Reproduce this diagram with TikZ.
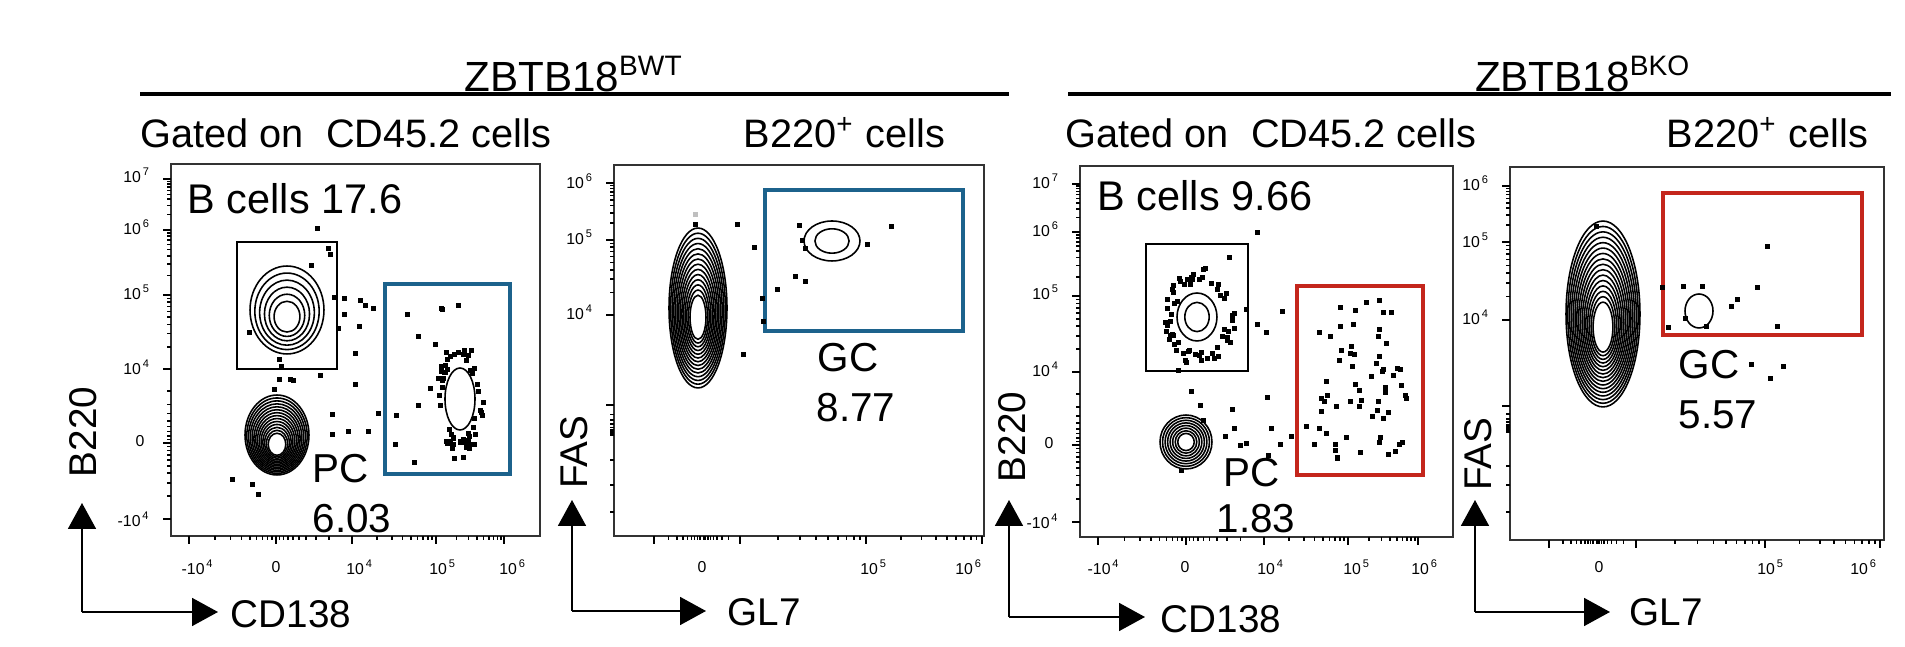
\documentclass[tikz,border=0pt]{standalone}
\usepackage{fontspec}
\setmainfont{Liberation Sans}
\usetikzlibrary{arrows.meta}

\definecolor{gateblue}{RGB}{28,98,140}
\definecolor{gatered}{RGB}{196,38,28}

\tikzset{
  frame/.style={draw=black!80,line width=0.5pt},
  gatebox/.style={line width=1pt},
  ring/.style={line width=0.45pt},
  axarrow/.style={line width=0.5pt,-{Triangle[length=2.6mm,width=2.8mm]}},
  ticklab/.style={font=\fontsize{4.5}{5}\selectfont,inner sep=0pt},
  header/.style={font=\fontsize{11.3}{13}\selectfont,inner sep=0pt},
  poplab/.style={font=\fontsize{11.5}{13}\selectfont,inner sep=0pt},
  axlab/.style={font=\fontsize{11}{13}\selectfont,inner sep=0pt},
}

% one event of the plot
\newcommand\dotat[2]{\fill ({#1-2.5},{#2-2.5}) rectangle ++(5,5);}
% nested contour rings: cx, cy, rx, ry, count, drift of outer rings
\newcommand\rings[6]{%
  \foreach \i in {1,...,#5}
    \draw[ring] (#1,{#2-#6*\i/#5}) ellipse [x radius={#3*(0.22+0.78*\i/#5)*0.01cm}, y radius={#4*(0.22+0.78*\i/#5)*0.01cm}];}
% minor log ticks of one decade
\newcommand\ydec[3]{\foreach \k in {2,...,9} \draw[ring] (#1,{#2+(#3-#2)*ln(\k)/ln(10)}) -- ++(-4,0);}
\newcommand\xdec[3]{\foreach \k in {2,...,9} \draw[ring] ({#2+(#3-#2)*ln(\k)/ln(10)},#1) -- ++(0,4);}
\newcommand\ymaj[2]{\draw[ring] (#1,#2) -- ++(-8,0);}
\newcommand\xmaj[2]{\draw[ring] (#2,#1) -- ++(0,8);}

\begin{document}
\begin{tikzpicture}[x=0.1mm,y=-0.1mm]
\useasboundingbox (0,0) rectangle (1905,647);

% headers
\node[header,font=\fontsize{12}{14}\selectfont] (wt) at (574,74) {ZBTB18\textsuperscript{\fontsize{8}{9}\selectfont BWT}};
\node[header,font=\fontsize{12}{14}\selectfont] (ko) at (1583,74) {ZBTB18\textsuperscript{\fontsize{8}{9}\selectfont BKO}};
\coordinate (wtl) at (140,94);  \coordinate (wtr) at (1009,94);
\coordinate (kol) at (1068,94); \coordinate (kor) at (1891,94);
\draw[line width=1.3pt] (wtl) -- (wtr);
\draw[line width=1.3pt] (kol) -- (kor);
\node[header,anchor=west] (gatedwt) at (140,133) {Gated on\ \ CD45.2 cells};
\node[header,anchor=west] (bwt) at (743,133) {B220\textsuperscript{+} cells};
\node[header,anchor=west] (gatedko) at (1065,133) {Gated on\ \ CD45.2 cells};
\node[header,anchor=west] (bko) at (1666,133) {B220\textsuperscript{+} cells};

% ---- panel 1 ----
\draw[frame] (171,164) rectangle (540,536);
\foreach \y in {179,230,295,369,443,519} {\ymaj{171}{\y}}
\ydec{171}{230}{179} \ydec{171}{295}{230} \ydec{171}{369}{295}
\ydec{171}{369}{443} \ydec{171}{519}{443}
\foreach \x in {189,276,352,436,504} {\xmaj{536}{\x}}
\xdec{536}{352}{276} \xdec{536}{189}{276} \xdec{536}{352}{436} \xdec{536}{436}{504}
\foreach \t/\y in {7/175,6/227,5/292,4/367} {\node[ticklab] at (137,\y) {10\textsuperscript{\,\t}};}
\node[ticklab] at (140,441) {0};
\node[ticklab] at (134,519) {-10\textsuperscript{\,4}};
\node[ticklab] at (198,567) {-10\textsuperscript{\,4}};
\node[ticklab] at (276,567) {0};
\node[ticklab] at (360,567) {10\textsuperscript{\,4}};
\node[ticklab] at (443,567) {10\textsuperscript{\,5}};
\node[ticklab] at (513,567) {10\textsuperscript{\,6}};
\draw[ring] (237,242) rectangle (337,369);
\draw[gatebox,gateblue] (385,284) rectangle (510,474);
\rings{287}{318}{37}{44}{6}{8}
\rings{277}{445}{32}{40}{14}{10}
\draw[ring] (460,399) ellipse [x radius=0.15cm, y radius=0.31cm];
\foreach \p in {(317,229),(328,249),(330,255),(311,266),(334,298),(344,299),(360,301),(365,306),(373,309),
  (344,315),(338,329),(359,327),(355,354),(320,376),(290,380),(279,380),(293,381),(355,385),(274,390),
  (332,415),(348,432),(368,432),(378,414),(332,435),(232,480),(252,485),(258,495),(249,333),(279,360),(281,367)}
  {\fill \p ++(-2.5,-2.5) rectangle ++(5,5);}
\pgfmathsetseed{11}
\foreach \i in {1,...,55}{
  \pgfmathsetmacro\ang{360*rnd}
  \pgfmathsetmacro\rr{1.1+0.6*rnd}
  \dotat{460+15*\rr*cos(\ang)}{400+34*\rr*sin(\ang)}}
\foreach \i in {1,...,14}{
  \pgfmathsetmacro\px{395+70*rnd}
  \pgfmathsetmacro\py{305+160*rnd}
  \dotat{\px}{\py}}
\node[header,font=\fontsize{11.8}{13}\selectfont] (bc1) at (295,199) {B cells 17.6};
\node[poplab] (pc1) at (341,469) {PC};
\node[poplab] (pcv1) at (352,519) {6.03};

% ---- panel 2 ----
\draw[frame] (614,165) rectangle (984,536);
\foreach \y in {183,240,315,405} {\ymaj{614}{\y}}
\ydec{614}{240}{183} \ydec{614}{315}{240} \ydec{614}{405}{437}
\foreach \y in {460,485,512} {\draw[ring] (614,\y) -- ++(-4,0);}
\foreach \x in {654,740,866,982} {\xmaj{536}{\x}}
\xdec{536}{654}{702} \xdec{536}{740}{702} \xdec{536}{740}{866} \xdec{536}{866}{982}
\foreach \t/\y in {6/181,5/237,4/312} {\node[ticklab] at (580,\y) {10\textsuperscript{\,\t}};}
\node[ticklab] at (702,567) {0};
\node[ticklab] at (874,567) {10\textsuperscript{\,5}};
\node[ticklab] at (969,567) {10\textsuperscript{\,6}};
\draw[gatebox,gateblue] (765,190) rectangle (963,331);
\rings{698}{318}{29}{80}{14}{10}
\rings{832}{241}{28}{20}{2}{0}
\fill[black!25] (692.5,212.5) rectangle ++(5,5);
\foreach \p in {(695,225),(737,225),(754,248),(762,299),(763,322),(743,355),(799,226),(802,241),
  (805,249),(777,290),(795,277),(805,282),(867,245),(891,227)}
  {\fill \p ++(-2.5,-2.5) rectangle ++(5,5);}
\node[poplab] (gc1) at (848,358) {GC};
\node[poplab] (gcv1) at (856,408) {8.77};

% ---- panel 3 ----
\draw[frame] (1080,166) rectangle (1453,537);
\foreach \y in {184,232,296,372,445,522} {\ymaj{1080}{\y}}
\ydec{1080}{232}{184} \ydec{1080}{296}{232} \ydec{1080}{372}{296}
\ydec{1080}{372}{445} \ydec{1080}{522}{445}
\foreach \x in {1098,1186,1264,1348,1418} {\xmaj{537}{\x}}
\xdec{537}{1264}{1186} \xdec{537}{1098}{1186} \xdec{537}{1264}{1348} \xdec{537}{1348}{1418}
\foreach \t/\y in {7/181,6/229,5/292,4/369} {\node[ticklab] at (1046,\y) {10\textsuperscript{\,\t}};}
\node[ticklab] at (1049,443) {0};
\node[ticklab] at (1043,521) {-10\textsuperscript{\,4}};
\node[ticklab] at (1104,567) {-10\textsuperscript{\,4}};
\node[ticklab] at (1185,567) {0};
\node[ticklab] at (1271,567) {10\textsuperscript{\,4}};
\node[ticklab] at (1357,567) {10\textsuperscript{\,5}};
\node[ticklab] at (1425,567) {10\textsuperscript{\,6}};
\draw[ring] (1146,244) rectangle (1248,371);
\draw[gatebox,gatered] (1297,286) rectangle (1423,475);
\rings{1197}{317}{20}{24}{2}{0}
\rings{1186}{442}{26}{27}{8}{0}
\foreach \p in {(1257,233),(1229,258),(1246,310),(1257,325),(1266,333),(1282,312),(1234,329),(1267,398),
  (1232,410),(1234,429),(1271,429),(1280,445),(1291,437),(1268,456),(1178,371),(1191,392),(1200,406),
  (1203,421),(1225,437),(1240,446),(1246,444),(1181,471),(1306,427),(1314,445)}
  {\fill \p ++(-2.5,-2.5) rectangle ++(5,5);}
\pgfmathsetseed{5}
\foreach \i in {1,...,60}{
  \pgfmathsetmacro\ang{360*rnd}
  \pgfmathsetmacro\rr{1.05+0.45*rnd}
  \dotat{1200+24*\rr*cos(\ang)}{317+33*\rr*sin(\ang)}}
\foreach \i in {1,...,62}{
  \pgfmathsetmacro\px{1315+95*rnd}
  \pgfmathsetmacro\py{300+160*rnd}
  \dotat{\px}{\py}}
\node[header,font=\fontsize{11.8}{13}\selectfont] (bc3) at (1205,196) {B cells 9.66};
\node[poplab] (pc3) at (1252,473) {PC};
\node[poplab] (pcv3) at (1256,519) {1.83};

% ---- panel 4 ----
\draw[frame] (1510,167) rectangle (1884,540);
\foreach \y in {186,242,320,406} {\ymaj{1510}{\y}}
\ydec{1510}{242}{186} \ydec{1510}{320}{242} \ydec{1510}{406}{433}
\foreach \y in {466,485,512} {\draw[ring] (1510,\y) -- ++(-4,0);}
\foreach \x in {1549,1636,1765,1880} {\xmaj{540}{\x}}
\xdec{540}{1549}{1595} \xdec{540}{1636}{1595} \xdec{540}{1636}{1765} \xdec{540}{1765}{1880}
\foreach \t/\y in {6/183,5/240,4/317} {\node[ticklab] at (1476,\y) {10\textsuperscript{\,\t}};}
\node[ticklab] at (1599,567) {0};
\node[ticklab] at (1771,567) {10\textsuperscript{\,5}};
\node[ticklab] at (1864,567) {10\textsuperscript{\,6}};
\draw[gatebox,gatered] (1663,193) rectangle (1862,335);
\rings{1603}{328}{37}{93}{16}{14}
\rings{1699}{311}{14}{17}{1}{0}
\foreach \p in {(1596,227),(1662,288),(1668,328),(1683,287),(1685,319),(1702,287),(1706,327),(1731,307),
  (1737,300),(1757,288),(1767,247),(1777,327),(1751,365),(1770,379),(1783,367)}
  {\fill \p ++(-2.5,-2.5) rectangle ++(5,5);}
\node[poplab] (gc4) at (1709,365) {GC};
\node[poplab] (gcv4) at (1718,415) {5.57};

% ---- axis arrows ----
\coordinate (o1) at (82,612);   \coordinate (u1) at (82,503);   \coordinate (r1) at (218,612);
\coordinate (o2) at (572,611);  \coordinate (u2) at (572,500);  \coordinate (r2) at (706,611);
\coordinate (o3) at (1009,617); \coordinate (u3) at (1009,500); \coordinate (r3) at (1145,617);
\coordinate (o4) at (1475,612); \coordinate (u4) at (1475,500); \coordinate (r4) at (1610,612);
\foreach \n in {1,2,3,4} {
  \draw[axarrow] (o\n) -- (u\n);
  \draw[axarrow] (o\n) -- (r\n);}
\node[axlab,rotate=90] (b220a) at (83,432) {B220};
\node[axlab,anchor=west] (cd138a) at (230,614) {CD138};
\node[axlab,rotate=90] (fasa) at (574,452) {FAS};
\node[axlab,anchor=west] (gl7a) at (727,612) {GL7};
\node[axlab,rotate=90] (b220b) at (1012,437) {B220};
\node[axlab,anchor=west] (cd138b) at (1160,619) {CD138};
\node[axlab,rotate=90] (fasb) at (1478,454) {FAS};
\node[axlab,anchor=west] (gl7b) at (1629,612) {GL7};
\end{tikzpicture}
\end{document}
